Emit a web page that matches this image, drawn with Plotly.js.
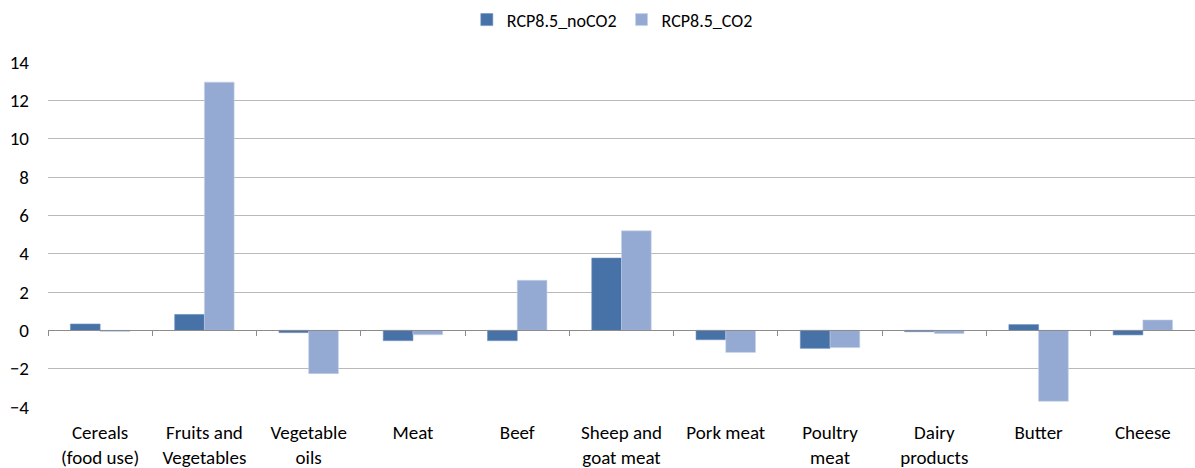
<!DOCTYPE html>
<html>
<head>
<meta charset="utf-8">
<script src="https://cdn.plot.ly/plotly-3.0.1.min.js"></script>
<style>
  html, body { margin: 0; padding: 0; background: #fff; }
  #chart { width: 1195px; height: 468px; }
</style>
</head>
<body>
<div id="chart"></div>
<script>
// Food groups (x categories)
const categories = [
  "Cereals<br>(food use)", "Fruits and<br>Vegetables", "Vegetable<br>oils", "Meat",
  "Beef", "Sheep and<br>goat meat", "Pork meat", "Poultry<br>meat",
  "Dairy<br>products", "Butter", "Cheese"
];

// Change per food group under each scenario
const rcpNoCO2 = [0.33, 0.83, -0.12, -0.54, -0.54, 3.77, -0.49, -0.94, -0.07, 0.30, -0.24];
const rcpCO2   = [-0.06, 12.95, -2.26, -0.23, 2.61, 5.19, -1.15, -0.90, -0.17, -3.70, 0.54];

const seriesNames = ["RCP8.5_noCO2", "RCP8.5_CO2"];
const yTicks = [-4, -2, 0, 2, 4, 6, 8, 10, 12, 14];
const yRange = [-4, 14];

const font = "Carlito, Calibri, Lato, 'Liberation Sans', sans-serif";

const traces = [
  {
    type: "bar", name: seriesNames[0], x: categories, y: rcpNoCO2,
    marker: { color: "#4672a8", line: { color: "#6b8fbd", width: 0.6 } },
    hoverinfo: "x+y"
  },
  {
    type: "bar", name: seriesNames[1], x: categories, y: rcpCO2,
    marker: { color: "#95aad2", line: { color: "#c6d2ea", width: 0.6 } },
    hoverinfo: "x+y"
  },
  // invisible trace to drive the category axis drawn along the zero line
  {
    type: "bar", x: categories, y: categories.map(() => null),
    xaxis: "x2", showlegend: false, hoverinfo: "skip"
  }
];

// fraction of the plot height where y = 0 sits
const zeroPos = (0 - yRange[0]) / (yRange[1] - yRange[0]);

const layout = {
  width: 1195, height: 468,
  margin: { l: 48, r: 0, t: 62, b: 61 },
  paper_bgcolor: "#ffffff", plot_bgcolor: "#ffffff",
  font: { family: font, size: 19, color: "#000000" },
  barmode: "group",
  bargap: 0.43,
  bargroupgap: 0,
  showlegend: true,
  legend: {
    orientation: "h", x: 0.492, xanchor: "center", y: 1.122, yanchor: "middle",
    font: { family: font, size: 18, color: "#000000" },
    itemwidth: 30, traceorder: "normal"
  },
  xaxis: {
    type: "category",
    showgrid: false, zeroline: false, showline: false,
    ticks: "", ticklabelstandoff: 12,
    tickfont: { family: font, size: 19, color: "#000000" },
    fixedrange: true
  },
  xaxis2: {
    type: "category", overlaying: "x", anchor: "free", position: zeroPos,
    matches: "x",
    showgrid: false, zeroline: false,
    showline: true, linecolor: "#8c8c8c", linewidth: 1,
    ticks: "outside", tickson: "boundaries", ticklen: 5, tickcolor: "#8c8c8c",
    showticklabels: false, fixedrange: true
  },
  yaxis: {
    range: yRange, tickvals: yTicks,
    showgrid: true, gridcolor: "#b9b9b9", gridwidth: 1,
    zeroline: false, showline: false, ticks: "",
    ticklabelstandoff: 18,
    tickfont: { family: font, size: 19, color: "#000000" },
    fixedrange: true
  }
};

Plotly.newPlot("chart", traces, layout, { displayModeBar: false, staticPlot: true });
</script>
</body>
</html>
